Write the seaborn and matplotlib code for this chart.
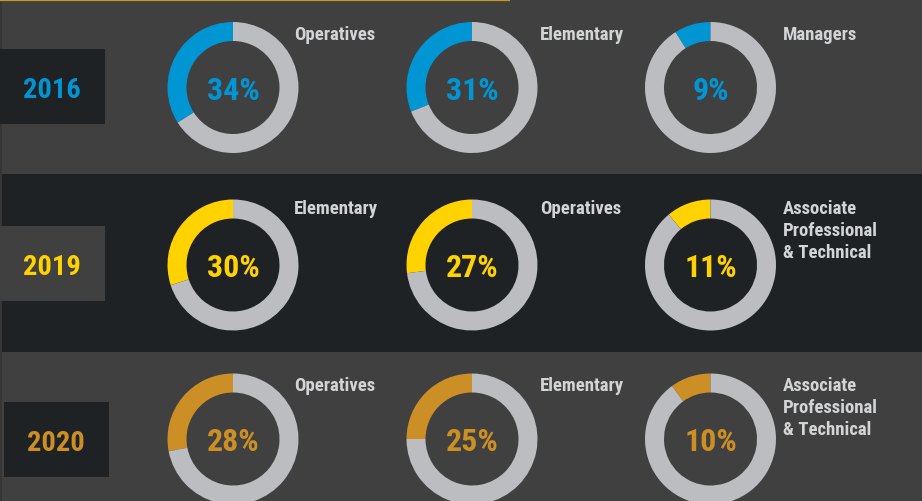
import matplotlib
matplotlib.use("Agg")
import seaborn as sns
from matplotlib import pyplot as plt
from matplotlib.patches import Rectangle

# data
years = ["2016", "2019", "2020"]
shares = [[34, 31, 9],
          [30, 27, 11],
          [28, 25, 10]]
occupations = [["Operatives", "Elementary", "Managers"],
               ["Elementary", "Operatives", "Associate\nProfessional\n& Technical"],
               ["Operatives", "Elementary", "Associate\nProfessional\n& Technical"]]

W, H = 922, 502
mid_grey = "#404040"
dark = "#1f2225"
ring_grey = "#bcbdc0"
label_col = "#d3d4d6"
year_cols = ["#0095d3", "#ffd200", "#cc8f25"]

sns.set_theme(style="white")
plt.rcParams["font.family"] = ["Roboto Condensed", "DejaVu Sans"]

fig = plt.figure(figsize=(W / 100, H / 100), dpi=100)
bg = fig.add_axes([0, 0, 1, 1])
bg.set_xlim(0, W)
bg.set_ylim(H, 0)
bg.axis("off")

# bands: (top, bottom, band colour, box colour, box x, box y)
bands = [(0, 175, mid_grey, dark, 0, 50),
         (175, 353, dark, mid_grey, 0, 227),
         (353, H, mid_grey, dark, 4, 403)]
for top, bot, col, _, _, _ in bands:
    bg.add_patch(Rectangle((0, top), W, bot - top, color=col, lw=0))
bg.add_patch(Rectangle((0, 0), 2, H, color="#363636", lw=0, zorder=1))
bg.plot([0, 510], [0.8, 0.8], color="#c09a1c", lw=1.6, solid_capstyle="butt")

cols_x = [233, 472, 710.5]
rows_y = [88.5, 266, 440]
label_x = [294, 540, 783]
label_base = [40, 214.5, 391.5]
line_gap = 21.7
r_out, r_in = 65.5, 46.5

for i, year in enumerate(years):
    top, bot, col, box_col, bx, by = bands[i]
    bg.add_patch(Rectangle((bx, by), 105, 75, color=box_col, lw=0, zorder=2))
    bg.text(bx + 52, by + 37.5 + 10.5, year, color=year_cols[i], fontsize=20.5,
            fontweight="bold", ha="center", va="baseline", zorder=3)
    cy = rows_y[i]
    for j, cx in enumerate(cols_x):
        v = shares[i][j]
        ax = fig.add_axes([(cx - r_out) / W, 1 - (cy + r_out) / H,
                           2 * r_out / W, 2 * r_out / H])
        ax.pie([v, 100 - v], colors=[year_cols[i], ring_grey], startangle=90,
               counterclock=True, radius=1,
               wedgeprops=dict(width=1 - r_in / r_out, linewidth=0))
        ax.set_xlim(-1, 1)
        ax.set_ylim(-1, 1)
        ax.set_aspect("equal")
        ax.axis("off")
        bg.text(cx, cy + 11, f"{v}%", color=year_cols[i], fontsize=23,
                fontweight="bold", ha="center", va="baseline", zorder=3)
        for k, line in enumerate(occupations[i][j].split("\n")):
            bg.text(label_x[j], label_base[i] + k * line_gap, line, color=label_col,
                    fontsize=13.5, fontweight="bold", ha="left", va="baseline",
                    zorder=3)

fig.savefig("out.png", dpi=100)
plt.close(fig)
